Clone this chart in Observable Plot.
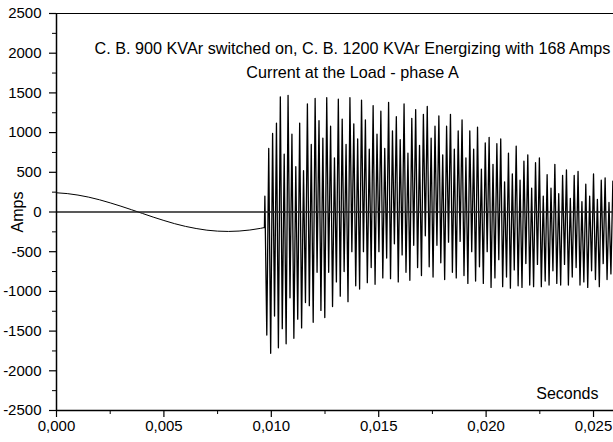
<!DOCTYPE html>
<html><head><meta charset="utf-8">
<script src="https://cdn.jsdelivr.net/npm/d3@7"></script>
<script src="https://cdn.jsdelivr.net/npm/@observablehq/plot@0.6"></script>
<style>html,body{margin:0;padding:0;background:#fff}</style>
</head><body><div id="chart"></div>
<script>
// Before switching: load current (ms, A)
const preTimeMs = [0, 0.5, 1.0, 1.5, 2.0, 2.5, 3.0, 3.5, 4.0, 4.5, 5.0, 5.5, 6.0, 6.5, 7.0, 7.5, 8.0, 8.5, 9.0, 9.5, 9.68];
const preAmps   = [242, 232, 213, 187, 154, 115, 73, 28, -18, -64, -107, -147, -181, -208, -229, -241, -245, -240, -227, -206, -196];

// After energizing: successive extremes of the oscillation (ms, A)
const burstTimeMs = [
  9.70, 9.79, 9.88, 9.97, 10.06, 10.15, 10.24, 10.33, 10.42, 10.51,
  10.60, 10.69, 10.78, 10.87, 10.96, 11.05, 11.14, 11.23, 11.32, 11.41,
  11.50, 11.59, 11.68, 11.77, 11.86, 11.95, 12.04, 12.13, 12.22, 12.31,
  12.40, 12.49, 12.58, 12.67, 12.76, 12.85, 12.94, 13.03, 13.12, 13.21,
  13.30, 13.39, 13.48, 13.57, 13.66, 13.75, 13.84, 13.93, 14.02, 14.11,
  14.20, 14.29, 14.38, 14.47, 14.56, 14.65, 14.74, 14.83, 14.92, 15.01,
  15.10, 15.19, 15.28, 15.37, 15.46, 15.55, 15.64, 15.73, 15.82, 15.91,
  16.00, 16.09, 16.18, 16.27, 16.36, 16.45, 16.54, 16.63, 16.72, 16.81,
  16.90, 16.99, 17.08, 17.17, 17.26, 17.35, 17.44, 17.53, 17.62, 17.71,
  17.80, 17.89, 17.98, 18.07, 18.16, 18.25, 18.34, 18.43, 18.52, 18.61,
  18.70, 18.79, 18.88, 18.97, 19.06, 19.15, 19.24, 19.33, 19.42, 19.51,
  19.60, 19.69, 19.78, 19.87, 19.96, 20.05, 20.14, 20.23, 20.32, 20.41,
  20.50, 20.59, 20.68, 20.77, 20.86, 20.95, 21.04, 21.13, 21.22, 21.31,
  21.40, 21.49, 21.58, 21.67, 21.76, 21.85, 21.94, 22.03, 22.12, 22.21,
  22.30, 22.39, 22.48, 22.57, 22.66, 22.75, 22.84, 22.93, 23.02, 23.11,
  23.20, 23.29, 23.38, 23.47, 23.56, 23.65, 23.74, 23.83, 23.92, 24.01,
  24.10, 24.19, 24.28, 24.37, 24.46, 24.55, 24.64, 24.73, 24.82, 24.91,
  25.00, 25.09, 25.18, 25.27, 25.36, 25.45, 25.54, 25.63, 25.72, 25.81,
  25.90
];
const burstAmps = [
  200, -1550, 800, -1780, 990, -1310, 1120, -1710, 1450, -1470,
  730, -1660, 1470, -1080, 980, -1590, 570, -1350, 1120, -1460,
  520, -1140, 1360, -1180, 850, -1390, 1430, -760, 1150, -1240,
  930, -1330, 1440, -760, 1080, -1190, 680, -880, 1420, -1060,
  1170, -750, 850, -1130, 1440, -500, 1110, -930, 920, -970,
  1410, -500, 1160, -890, 790, -700, 1340, -910, 980, -500,
  1270, -830, 800, -580, 1380, -840, 1020, -400, 1200, -880,
  910, -540, 1360, -760, 740, -860, 1180, -420, 1290, -700,
  840, -800, 1230, -300, 1330, -690, 930, -820, 1080, -420,
  1210, -640, 720, -850, 1080, -380, 1230, -760, 790, -830,
  1020, -370, 1160, -800, 680, -900, 1020, -500, 790, -870,
  1070, -690, 540, -900, 870, -500, 940, -950, 600, -830,
  860, -600, 920, -940, 380, -820, 740, -960, 480, -730,
  830, -930, 400, -950, 640, -650, 720, -920, 300, -940,
  620, -660, 680, -940, 200, -870, 470, -920, 300, -740,
  600, -900, 230, -920, 460, -660, 530, -920, 170, -820,
  460, -700, 510, -920, 130, -880, 350, -950, 200, -740,
  480, -850, 160, -940, 400, -650, 430, -850, 120, -780,
  390
];

const yTicks = [-2500, -2000, -1500, -1000, -500, 0, 500, 1000, 1500, 2000, 2500];
const yMinorTicks = [-2250, -1750, -1250, -750, -250, 250, 750, 1250, 1750, 2250];
const xTicks = [0, 0.005, 0.010, 0.015, 0.020, 0.025];
const xMinorTicks = [0.0025, 0.0075, 0.0125, 0.0175, 0.0225];
const titleLine1 = "C. B. 900 KVAr switched on, C. B. 1200 KVAr Energizing with 168 Amps";
const titleLine2 = "Current at the Load - phase A";
const yLabel = "Amps";
const xLabel = "Seconds";

const preSeries = preTimeMs.map((t, i) => ({t: t / 1000, a: preAmps[i]}));
const burstSeries = [
  preSeries[preSeries.length - 1],
  ...burstTimeMs.map((t, i) => ({t: t / 1000, a: burstAmps[i]}))
];

const chart = Plot.plot({
  width: 613,
  height: 442,
  marginLeft: 56,
  marginRight: 0,
  marginTop: 13,
  marginBottom: 32,
  x: {domain: [0, 0.02593]},
  y: {domain: [-2500, 2500]},
  style: {fontFamily: "'Liberation Sans', Arial, sans-serif", fontSize: "15px", background: "#fff", color: "#000"},
  marks: [
    Plot.line(preSeries, {x: "t", y: "a", stroke: "#000", strokeWidth: 1}),
    Plot.line(burstSeries, {x: "t", y: "a", stroke: "#000", strokeWidth: 1.3}),
    Plot.ruleY([0], {stroke: "#222", strokeWidth: 1.5}),
    Plot.ruleY([2500], {stroke: "#000", strokeWidth: 1}),
    Plot.ruleY([-2500], {stroke: "#000", strokeWidth: 1.5}),
    Plot.ruleX([0], {stroke: "#000", strokeWidth: 1.5}),
    Plot.axisY(yTicks, {tickSize: 7, tickPadding: 8, fontSize: 15, tickFormat: d => String(d), label: yLabel, labelAnchor: "center", labelArrow: "none", labelOffset: 45, stroke: "#000", strokeWidth: 1.2}),
    Plot.axisY(yMinorTicks, {tickSize: 4, tickFormat: () => "", label: null, stroke: "#000"}),
    Plot.axisX(xTicks, {tickSize: 7, tickPadding: 3, fontSize: 15, tickFormat: d => d.toFixed(3).replace(".", ","), label: null, stroke: "#000", strokeWidth: 1.2}),
    Plot.axisX(xMinorTicks, {tickSize: 4, tickFormat: () => "", label: null, stroke: "#000"}),
    Plot.text([xLabel], {frameAnchor: "bottom-right", dx: -15, dy: -17, textAnchor: "end", lineAnchor: "middle", fontSize: 16, fill: "#000"}),
    Plot.text([titleLine1], {frameAnchor: "top", dx: 17.5, dy: 35, lineAnchor: "middle", fontSize: 16.2, fill: "#000"}),
    Plot.text([titleLine2], {frameAnchor: "top", dx: 17.5, dy: 59, lineAnchor: "middle", fontSize: 16.2, fill: "#000"})
  ]
});
d3.select(chart).selectAll("text")
  .filter(function() { return this.textContent === yLabel; })
  .attr("font-size", 16)
  .style("font-size", "16px");
document.getElementById("chart").appendChild(chart);
</script>
</body></html>
